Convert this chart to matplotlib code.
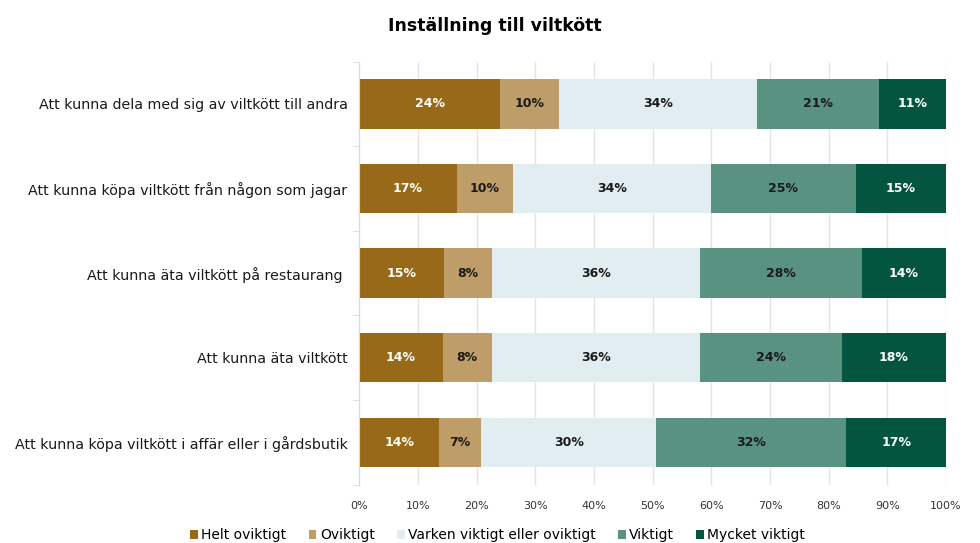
import numpy as np
import matplotlib.pyplot as plt

plt.rcParams['font.family'] = ['DejaVu Sans']

# fragor, uppifran och ned
fragor = [
    "Att kunna dela med sig av viltkött till andra",
    "Att kunna köpa viltkött från någon som jagar",
    "Att kunna äta viltkött på restaurang ",
    "Att kunna äta viltkött",
    "Att kunna köpa viltkött i affär eller i gårdsbutik",
]
svar = ["Helt oviktigt", "Oviktigt", "Varken viktigt eller oviktigt", "Viktigt", "Mycket viktigt"]

helt_oviktigt = [24.0, 16.6, 14.5, 14.2, 13.6]
oviktigt = [10.0, 9.6, 8.1, 8.4, 7.2]
varken = [33.8, 33.7, 35.5, 35.5, 29.8]
viktigt = [20.7, 24.7, 27.6, 24.1, 32.4]
mycket_viktigt = [11.5, 15.4, 14.3, 17.8, 17.0]

etiketter = [
    ["24%", "17%", "15%", "14%", "14%"],
    ["10%", "10%", "8%", "8%", "7%"],
    ["34%", "34%", "36%", "36%", "30%"],
    ["21%", "25%", "28%", "24%", "32%"],
    ["11%", "15%", "14%", "18%", "17%"],
]

farger = ["#986918", "#BF9D69", "#E2EDF1", "#5A9282", "#035540"]
textfarg = ["white", "#1a1a1a", "#1a1a1a", "#1a1a1a", "white"]

serier = [helt_oviktigt, oviktigt, varken, viktigt, mycket_viktigt]

fig = plt.figure(figsize=(9.8, 5.43), dpi=100)
ax = fig.add_axes([0.3666, 0.1076, 0.5987, 0.7788])

y = np.arange(len(fragor))
left = np.zeros(len(fragor))
for i, s in enumerate(serier):
    s = np.array(s)
    bars = ax.barh(y, s, left=left, height=0.585, color=farger[i], label=svar[i],
                   linewidth=0, zorder=2)
    for j, b in enumerate(bars):
        ax.text(left[j] + s[j] / 2, y[j], etiketter[i][j], ha='center', va='center',
                color=textfarg[i], fontsize=9, fontweight='bold', zorder=3)
    left += s

ax.set_xlim(0, 100)
ax.set_ylim(len(fragor) - 0.5, -0.5)
ax.set_yticks(y)
ax.set_yticklabels(fragor, fontsize=10.3, color='#1a1a1a')
ax.set_xticks(np.arange(0, 101, 10))
ax.set_xticklabels([f"{v}%" for v in range(0, 101, 10)], fontsize=8, color='#333333')
ax.tick_params(axis='y', length=0, pad=8.5)
ax.tick_params(axis='x', length=0, pad=12)
ax.set_yticks(np.arange(-0.5, len(fragor), 1), minor=True)
ax.tick_params(axis='y', which='minor', length=4, color='#d9d9d9')

ax.grid(axis='x', color='#e3e3e3', linewidth=1, zorder=0)
for sp in ['top', 'right', 'bottom']:
    ax.spines[sp].set_visible(False)
ax.spines['left'].set_color('#d9d9d9')

fig.suptitle("Inställning till viltkött", x=0.505, y=0.968, fontsize=12.5, fontweight='bold')

fig.legend(loc='lower center', bbox_to_anchor=(0.508, -0.022), ncol=5, frameon=False,
           fontsize=10, handlelength=0.55, handleheight=0.55, handletextpad=0.25,
           columnspacing=1.6)

fig.savefig("out.png", dpi=100)
